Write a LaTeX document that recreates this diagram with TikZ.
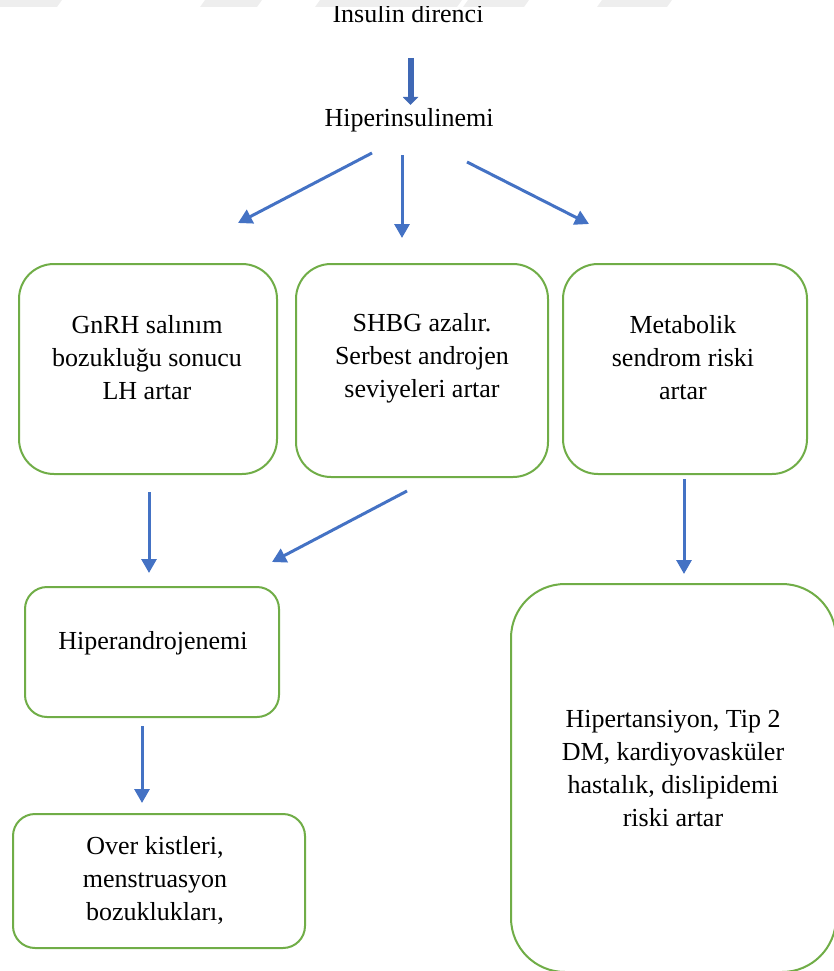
\documentclass[tikz,border=0pt]{standalone}
\usepackage{fontspec}
\setmainfont{Liberation Serif}
\usetikzlibrary{arrows.meta}
\definecolor{boxgreen}{HTML}{70AD47}
\definecolor{arrblue}{HTML}{4472C4}
\definecolor{blockblue}{HTML}{3F68B5}
\definecolor{wmgray}{HTML}{EEEEEE}
\tikzset{
  flowbox/.style={draw=boxgreen, line width=2pt, fill=white, inner sep=0pt},
  flowtext/.style={align=center, font=\fontsize{26}{33}\selectfont, inner sep=0pt},
  flowarrow/.style={draw=arrblue, line width=3pt, -{Triangle[length=14pt,width=15pt]}},
  blockarrow/.style={draw=blockblue, line width=6pt, -{Triangle[length=8pt,width=15pt]}}
}
\begin{document}
\begin{tikzpicture}[x=1pt,y=-1pt]
\useasboundingbox (0,0) rectangle (834,971);
\clip (0,0) rectangle (834,971);
% faint watermark band at the top
\fill[wmgray] (0,0) -- (62,0) -- (57,7) -- (0,7) -- cycle;
\fill[wmgray] (205,0) -- (262,0) -- (257,7) -- (200,7) -- cycle;
\fill[wmgray] (320,0) -- (462,0) -- (457,7) -- (315,7) -- cycle;
\fill[wmgray] (468,0) -- (529,0) -- (524,7) -- (463,7) -- cycle;
\fill[wmgray] (602,0) -- (672,0) -- (667,7) -- (597,7) -- cycle;
% top texts
\begin{scope}
\clip (0,7) rectangle (834,971);
\node[flowtext, anchor=base] (ins) at (408,22.5) {İnsulin direnci};
\end{scope}
\node[flowtext, anchor=base] (hin) at (409,127) {Hiperinsulinemi};
% boxes
\node[flowbox, minimum width=258pt, minimum height=210pt, rounded corners=35pt] (b1) at (148,369) {};
\node[flowbox, minimum width=252pt, minimum height=213pt, rounded corners=35pt] (b2) at (422,370.5) {};
\node[flowbox, minimum width=244pt, minimum height=210pt, rounded corners=35pt] (b3) at (685,369) {};
\node[flowbox, minimum width=254pt, minimum height=130pt, rounded corners=22pt] (b4) at (152,652) {};
\node[flowbox, minimum width=292pt, minimum height=134pt, rounded corners=22pt] (b5) at (159,881) {};
\node[flowbox, minimum width=325pt, minimum height=388pt, rounded corners=54pt] (b6) at (673.5,778) {};
% box texts
\node[flowtext] (t1) at (147,358) {GnRH salınım\\bozukluğu sonucu\\LH artar};
\node[flowtext] (t2) at (422,358) {SHBG azalır.\\Serbest androjen\\seviyeleri artar};
\node[flowtext] (t3) at (683,358) {Metabolik\\sendrom riski\\artar};
\node[flowtext] (t4) at (153,643) {Hiperandrojenemi};
\node[flowtext] (t5) at (155,880) {Over kistleri,\\menstruasyon\\bozuklukları,};
\node[flowtext] (t6) at (673,769) {Hipertansiyon, Tip 2\\DM, kardiyovasküler\\hastalık, dislipidemi\\riski artar};
% arrow end points
\coordinate (a0s) at (410.5,58);   \coordinate (a0e) at (410.5,105);
\coordinate (a1s) at (372,153);  \coordinate (a1e) at (238,223);
\coordinate (a2s) at (402,155);  \coordinate (a2e) at (402,238);
\coordinate (a3s) at (467,162);  \coordinate (a3e) at (589,224);
\coordinate (a4s) at (149,492);  \coordinate (a4e) at (149,573);
\coordinate (a5s) at (407,491);  \coordinate (a5e) at (272,562);
\coordinate (a6s) at (684,479);  \coordinate (a6e) at (684,574);
\coordinate (a7s) at (142,726);  \coordinate (a7e) at (142,803);
% arrows
\draw[blockarrow] (a0s) -- (a0e);
\draw[flowarrow] (a1s) -- (a1e);
\draw[flowarrow] (a2s) -- (a2e);
\draw[flowarrow] (a3s) -- (a3e);
\draw[flowarrow] (a4s) -- (a4e);
\draw[flowarrow] (a5s) -- (a5e);
\draw[flowarrow] (a6s) -- (a6e);
\draw[flowarrow] (a7s) -- (a7e);
\end{tikzpicture}
\end{document}
